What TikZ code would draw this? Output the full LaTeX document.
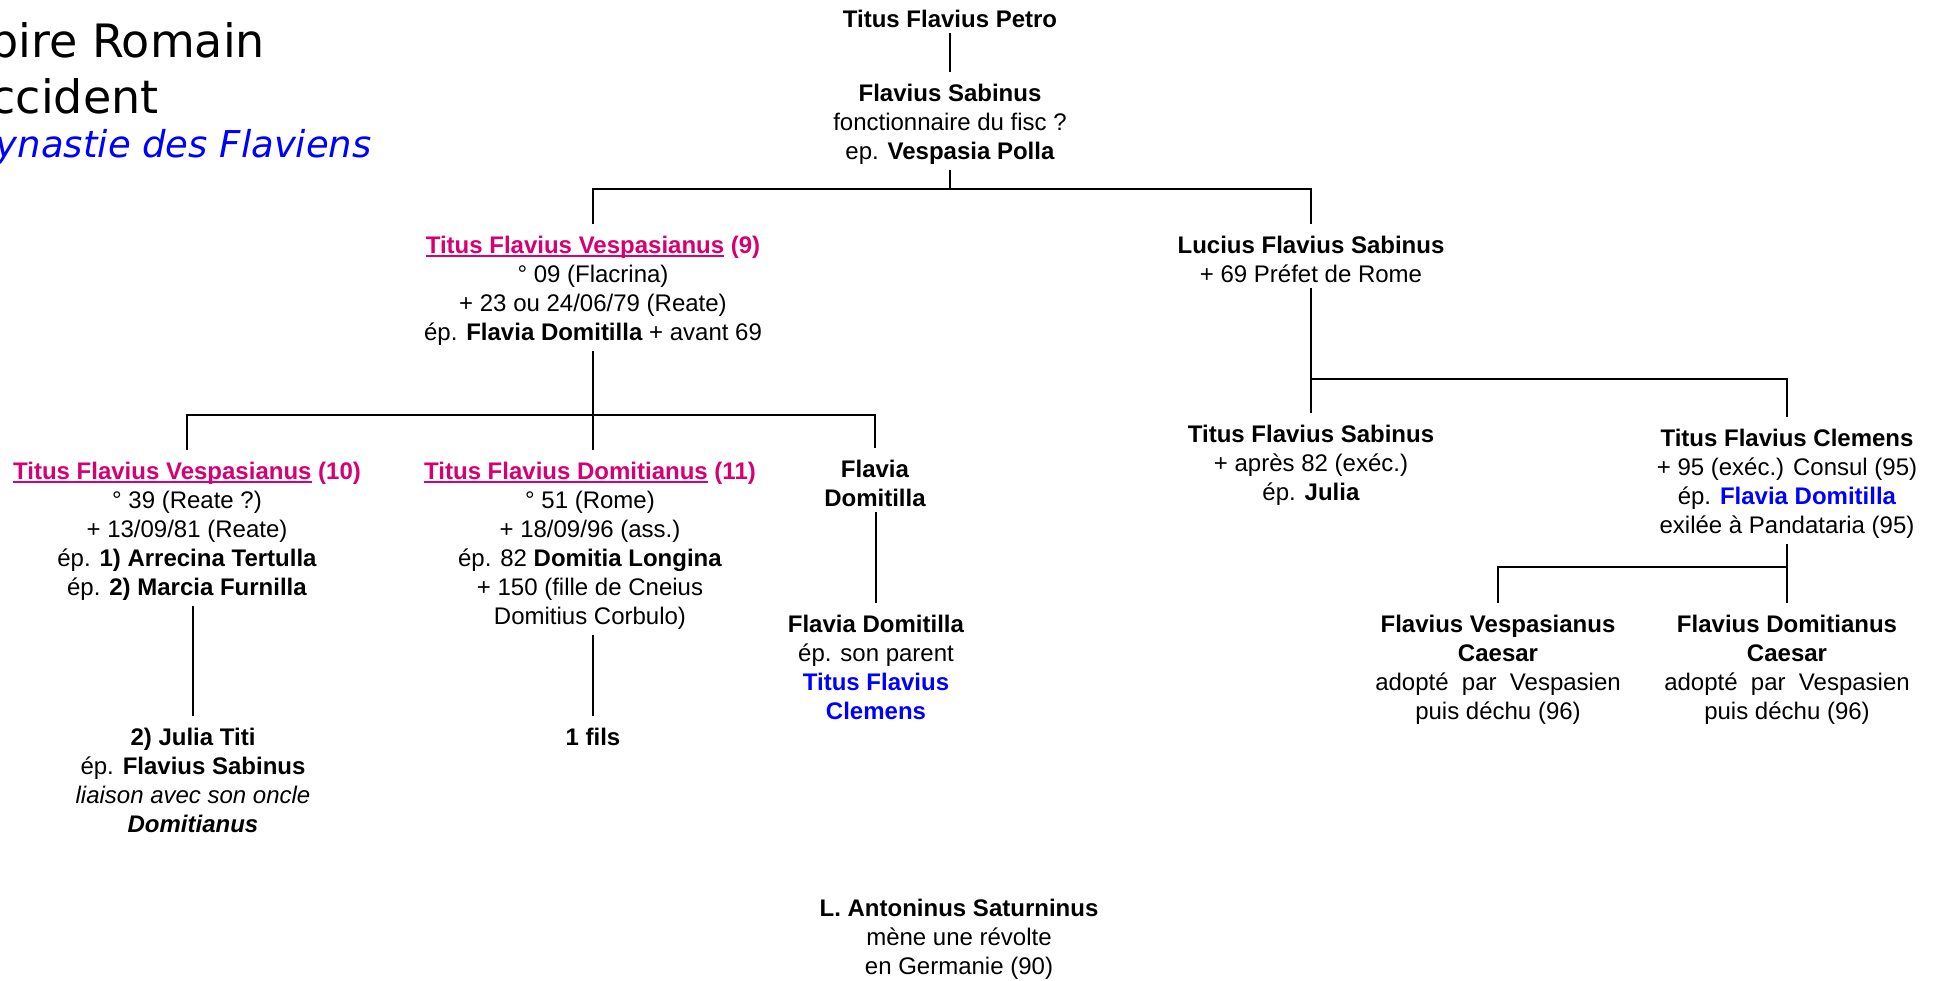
\documentclass[tikz,border=0pt]{standalone}
\usepackage{fontspec}
\setmainfont{Liberation Sans}
\newfontfamily\titrefont{DejaVu Sans}
\definecolor{empereur}{RGB}{214,0,115}
\definecolor{bleu}{RGB}{0,0,255}
\newcommand{\souligne}[1]{\leavevmode\setbox0\hbox{#1}\rlap{\rule[-1.7pt]{\wd0}{0.85pt}}\box0\relax}
\newcommand{\nomempereur}[2]{\textcolor{empereur}{\textbf{\souligne{#1} #2}}}

\begin{document}
\begin{tikzpicture}[x=.5pt, y=-.5pt,
    lien/.style={line width=1.4pt},
    bas/.style={shorten <=2.5pt},
    haut/.style={shorten >=6pt}]

        \path[fill=white, use as bounding box] (0,0) rectangle (1938,980);

        \begin{scope}[every node/.style={anchor=base west, inner sep=0pt}]
          \node[font=\titrefont\fontsize{23}{27}\selectfont] (titre1) at (-85,57) {Empire Romain};
          \node[font=\titrefont\fontsize{23}{27}\selectfont] (titre2) at (-90,113) {d’Occident};
          \node[font=\titrefont\itshape\fontsize{18.5}{22}\selectfont, text=bleu] (titre3) at (-33,157) {Dynastie des Flaviens};
        \end{scope}

        \begin{scope}[every node/.style={align=center, anchor=north, inner sep=0pt, font=\fontsize{12}{14.5}\selectfont}]
          \node (petro)      at (950,10)   {\textbf{Titus Flavius Petro}};
          \node (sabinus)    at (950,84)   {\textbf{Flavius Sabinus}\\ fonctionnaire du fisc ?\\ ep. \textbf{Vespasia Polla}};
          \node (vesp9)      at (593,236)  {\nomempereur{Titus Flavius Vespasianus}{(9)}\\ ° 09 (Flacrina)\\ + 23 ou 24/06/79 (Reate)\\ ép. \textbf{Flavia Domitilla} + avant 69};
          \node (lucius)     at (1311,236) {\textbf{Lucius Flavius Sabinus}\\ + 69 Préfet de Rome};
          \node (titus10)    at (187,462)  {\nomempereur{Titus Flavius Vespasianus}{(10)}\\ ° 39 (Reate ?)\\ + 13/09/81 (Reate)\\ ép. \textbf{1) Arrecina Tertulla}\\ ép. \textbf{2) Marcia Furnilla}};
          \node (domit11)    at (590,462)  {\nomempereur{Titus Flavius Domitianus}{(11)}\\ ° 51 (Rome)\\ + 18/09/96 (ass.)\\ ép. 82 \textbf{Domitia Longina}\\ + 150 (fille de Cneius\\ Domitius Corbulo)};
          \node (flavia)     at (875,460)  {\textbf{Flavia}\\ \textbf{Domitilla}};
          \node (juliatiti)  at (193,728)  {\textbf{2) Julia Titi}\\ ép. \textbf{Flavius Sabinus}\\ \textit{liaison avec son oncle}\\ \textbf{\textit{Domitianus}}};
          \node (unfils)     at (593,728)  {\textbf{1 fils}};
          \node (flaviad)    at (876,615)  {\textbf{Flavia Domitilla}\\ ép. son parent\\ \textcolor{bleu}{\textbf{Titus Flavius}}\\ \textcolor{bleu}{\textbf{Clemens}}};
          \node (tfsabinus)  at (1311,425) {\textbf{Titus Flavius Sabinus}\\ + après 82 (exéc.)\\ ép. \textbf{Julia}};
          \node (clemens)    at (1787,429) {\textbf{Titus Flavius Clemens}\\ + 95 (exéc.) Consul (95)\\ ép. \textcolor{bleu}{\textbf{Flavia Domitilla}}\\ exilée à Pandataria (95)};
          \node (fvcaesar)   at (1498,615) {\textbf{Flavius Vespasianus}\\ \textbf{Caesar}\\ adopté\ \ par\ \ Vespasien\\ puis déchu (96)};
          \node (fdcaesar)   at (1787,615) {\textbf{Flavius Domitianus}\\ \textbf{Caesar}\\ adopté\ \ par\ \ Vespasien\\ puis déchu (96)};
          \node (saturninus) at (959,899)  {\textbf{L. Antoninus Saturninus}\\ mène une révolte\\ en Germanie (90)};
        \end{scope}

        \coordinate (j1) at (950,189);
        \coordinate (j2) at (593,415);
        \coordinate (j3) at (1311,379);
        \coordinate (j4) at (1787,567);

        \begin{scope}[every path/.style={lien}]
          \draw[bas, haut] (petro.south) -- (sabinus.north);
          \draw[bas] (sabinus.south) -- (j1);
          \draw[shorten <=6pt, shorten >=6pt] (vesp9.north) |- (j1) -| (lucius.north);

          \draw[bas, haut] (vesp9.south) -- (vesp9.south |- domit11.north);
          \draw[shorten <=6pt, shorten >=6pt] (titus10.north) |- (j2) -| (flavia.north);
          \draw[bas, haut] (juliatiti.north |- titus10.south) -- (juliatiti.north);
          \draw[bas, haut] (unfils.north |- domit11.south) -- (unfils.north);
          \draw[bas, haut] (flaviad.north |- flavia.south) -- (flaviad.north);

          \draw[bas, haut] (lucius.south) -- (tfsabinus.north);
          \draw[haut] (j3) -| (clemens.north);
          \draw[bas] (clemens.south) -- (j4);
          \draw[shorten <=6pt, shorten >=6pt] (fvcaesar.north) |- (j4) -- (fdcaesar.north);
        \end{scope}

      \end{tikzpicture}
\end{document}
